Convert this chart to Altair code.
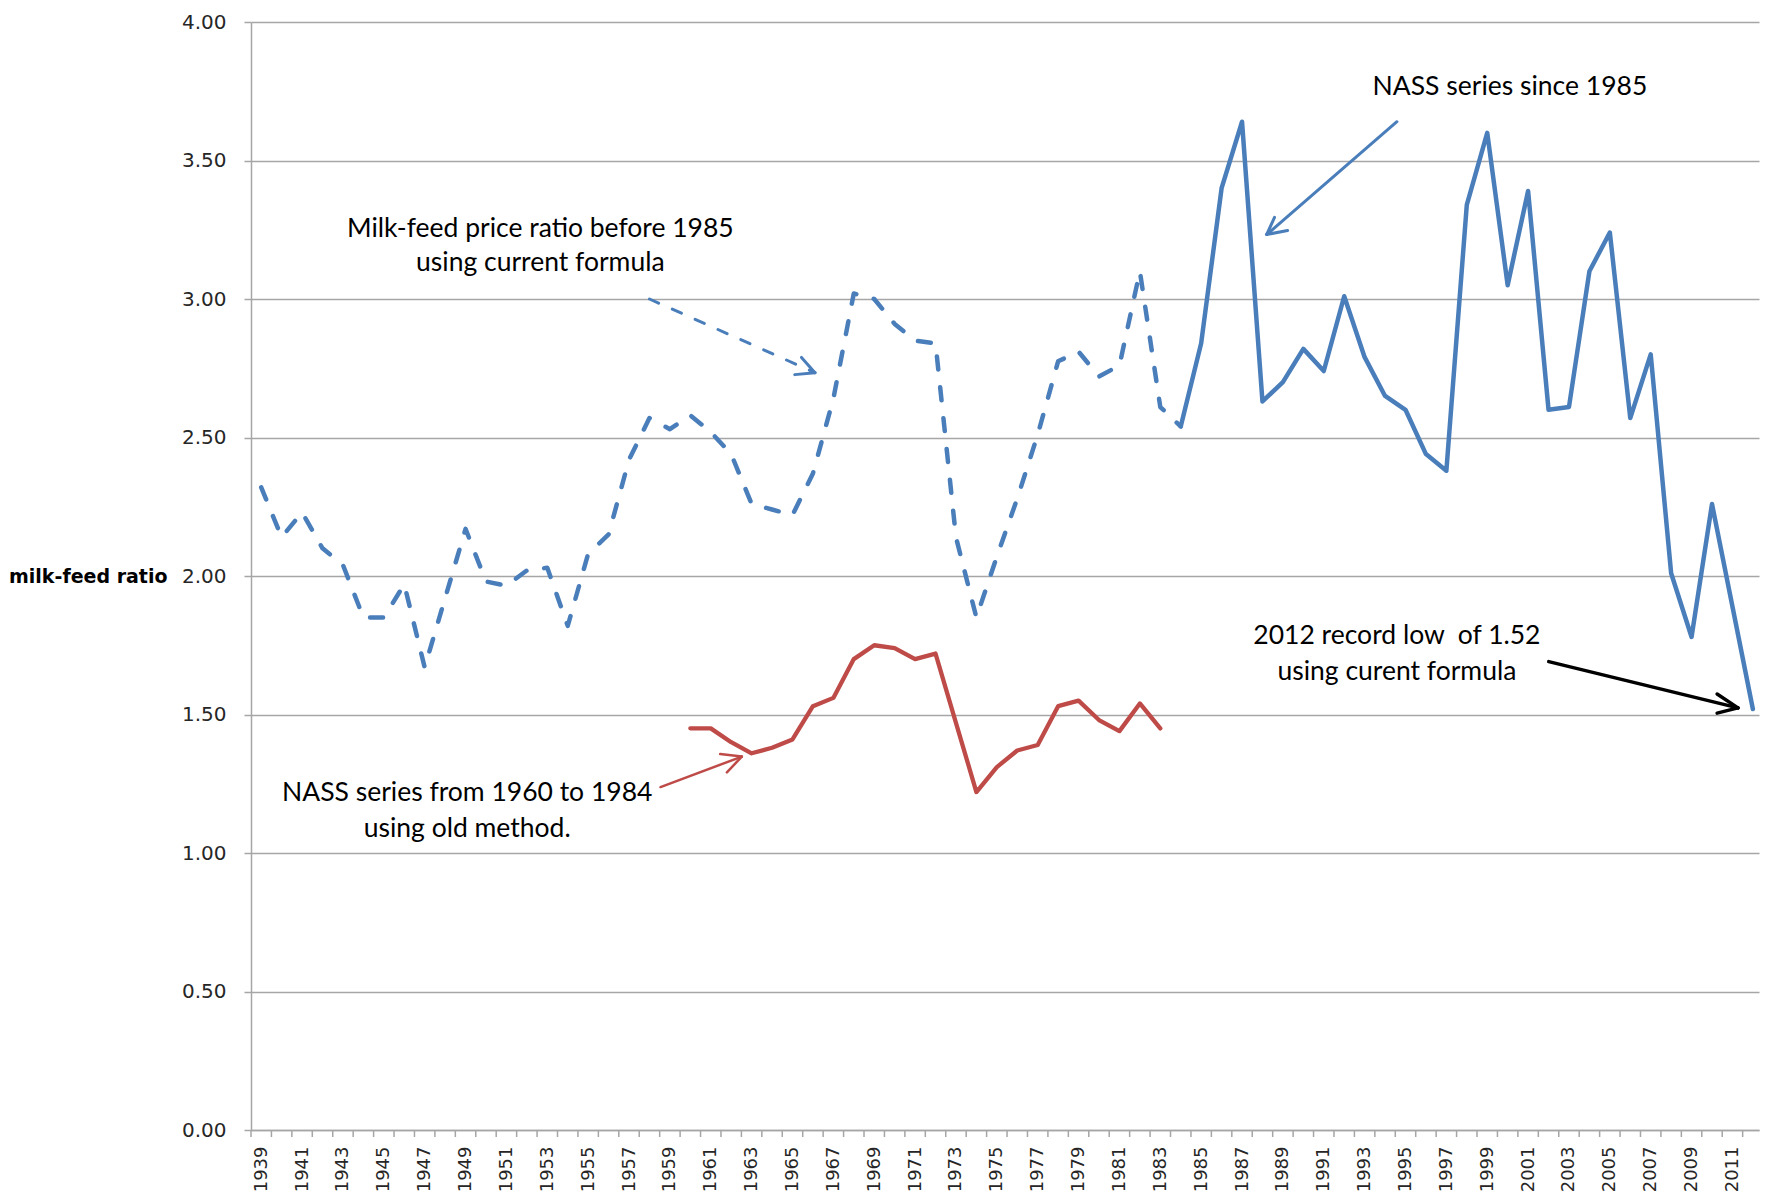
import altair as alt
import pandas as pd

# ---------------- data ----------------
YEARS_CURRENT = list(range(1939, 1985))
CURRENT_FORMULA = [2.32, 2.14, 2.23, 2.10, 2.04, 1.85, 1.85, 1.97, 1.67, 1.92,
                   2.17, 1.98, 1.965, 2.02, 2.03, 1.82, 2.08, 2.15, 2.42, 2.57,
                   2.53, 2.58, 2.52, 2.44, 2.26, 2.24, 2.22, 2.37, 2.64, 3.02,
                   3.00, 2.91, 2.85, 2.84, 2.14, 1.85, 2.07, 2.28, 2.51, 2.775,
                   2.81, 2.72, 2.76, 3.10, 2.61, 2.54]

YEARS_OLD = list(range(1960, 1984))
OLD_METHOD = [1.45, 1.45, 1.40, 1.36, 1.38, 1.41, 1.53, 1.56, 1.70, 1.75,
              1.74, 1.70, 1.72, 1.47, 1.22, 1.31, 1.37, 1.39, 1.53, 1.55,
              1.48, 1.44, 1.54, 1.45]

YEARS_NASS = list(range(1984, 2013))
NASS_SINCE_1985 = [2.54, 2.84, 3.40, 3.64, 2.63, 2.70, 2.82, 2.74, 3.01, 2.79,
                   2.65, 2.60, 2.44, 2.38, 3.34, 3.60, 3.05, 3.39, 2.60, 2.61,
                   3.10, 3.24, 2.57, 2.80, 2.01, 1.78, 2.26, 1.89, 1.52]

Y_TICKS = [0.0, 0.5, 1.0, 1.5, 2.0, 2.5, 3.0, 3.5, 4.0]
X_LABEL_YEARS = list(range(1939, 2012, 2))
X_TICK_BOUNDS = [y - 0.5 for y in range(1939, 2013)]

# annotation texts (centre year, value)
NOTE_TEXT = ["Milk-feed price ratio before 1985", "using current formula",
             "NASS series since 1985",
             "NASS series from 1960 to 1984", "using old method.",
             "2012 record low\u00a0 of 1.52", "using curent formula"]
NOTE_X = [1952.66, 1952.66, 2000.11, 1949.08, 1949.08, 1994.58, 1994.58]
NOTE_Y = [3.254, 3.131, 3.767, 1.217, 1.086, 1.783, 1.652]

# annotation arrows: segments in (year, value) units
SEG_X = [1965.44, 1965.11,                 # dashed arrow heads
         1994.58, 1988.59, 1989.23,        # NASS since 1985 arrow
         1958.54, 1961.46, 1961.79,        # old method arrow
         2002.01, 2010.25, 2010.25]        # record low arrow
SEG_Y = [2.789, 2.727,
         3.640, 3.295, 3.247,
         1.238, 1.357, 1.291,
         1.691, 1.574, 1.505]
SEG_X2 = [1966.10, 1966.10,
          1988.21, 1988.21, 1988.21,
          1962.52, 1962.52, 1962.52,
          2011.27, 2011.27, 2011.27]
SEG_Y2 = [2.734, 2.734,
          3.233, 3.233, 3.233,
          1.348, 1.348, 1.348,
          1.524, 1.524, 1.524]
SEG_COLOR = ["#4a7ebb", "#4a7ebb",
             "#4a7ebb", "#4a7ebb", "#4a7ebb",
             "#be4b48", "#be4b48", "#be4b48",
             "#000000", "#000000", "#000000"]
SEG_W = [3, 3, 3, 3, 3, 2.5, 2.5, 2.5, 3.5, 3.5, 3.5]

DASH_SHAFT_X, DASH_SHAFT_Y = [1958.0], [3.00]
DASH_SHAFT_X2, DASH_SHAFT_Y2 = [1966.10], [2.734]

# ---------------- style ----------------
BLUE = "#4a7ebb"
RED = "#be4b48"
GRID = "#a6a6a6"
W, H = 1508, 1108

XS = alt.Scale(domain=[1938.5, 2012.3], nice=False, zero=False)
YS = alt.Scale(domain=[0, 4], nice=False, zero=True)

df_cur = pd.DataFrame({"year": YEARS_CURRENT, "value": CURRENT_FORMULA})
df_old = pd.DataFrame({"year": YEARS_OLD, "value": OLD_METHOD})
df_nass = pd.DataFrame({"year": YEARS_NASS, "value": NASS_SINCE_1985})
df_ticks = pd.DataFrame({"b": X_TICK_BOUNDS})
df_notes = pd.DataFrame({"text": NOTE_TEXT, "x": NOTE_X, "y": NOTE_Y})
df_seg = pd.DataFrame({"x": SEG_X, "y": SEG_Y, "x2": SEG_X2, "y2": SEG_Y2,
                       "c": SEG_COLOR, "w": SEG_W})
df_shaft = pd.DataFrame({"x": DASH_SHAFT_X, "y": DASH_SHAFT_Y,
                         "x2": DASH_SHAFT_X2, "y2": DASH_SHAFT_Y2})

x_axis = alt.Axis(values=X_LABEL_YEARS, format="d", labelAngle=-90,
                  labelFont="DejaVu Sans", labelFontSize=18, labelColor="#262626",
                  labelPadding=9, tickSize=7, tickOpacity=0, grid=False,
                  domainColor=GRID, domainWidth=1.5, title=None,
                  labelOverlap=False, labelFlush=False)
y_axis = alt.Axis(values=Y_TICKS, format=".2f", labelFont="DejaVu Sans",
                  labelFontSize=20, labelColor="#262626", labelPadding=18,
                  tickSize=7, tickColor=GRID, tickWidth=1.5,
                  domainColor=GRID, domainWidth=1.5,
                  grid=True, gridColor=GRID, gridWidth=1.5,
                  title="milk-feed ratio", titleAngle=0, titleAlign="right",
                  titleBaseline="middle", titleX=-84, titleY=H / 2,
                  titleFont="DejaVu Sans", titleFontSize=19,
                  titleFontWeight="bold", titleColor="#000000")


def X(field):
    return alt.X(field, scale=XS, axis=x_axis)


def Y(field):
    return alt.Y(field, scale=YS, axis=y_axis)


line_cur = alt.Chart(df_cur).mark_line(
    color=BLUE, strokeWidth=4.5, strokeDash=[13, 18], strokeCap="round",
    strokeJoin="round"
).encode(x=X("year:Q"), y=Y("value:Q"))

line_old = alt.Chart(df_old).mark_line(
    color=RED, strokeWidth=4.3, strokeJoin="round", strokeCap="round"
).encode(x=X("year:Q"), y=Y("value:Q"))

line_nass = alt.Chart(df_nass).mark_line(
    color=BLUE, strokeWidth=4.5, strokeJoin="round", strokeCap="round"
).encode(x=X("year:Q"), y=Y("value:Q"))

ticks = alt.Chart(df_ticks).mark_rule(color=GRID, strokeWidth=1.5).encode(
    x=X("b:Q"),
    y=alt.value(H),
    y2=alt.value(H + 7),
)

notes = alt.Chart(df_notes).mark_text(
    font="Lato", fontSize=26.5, color="#000000", align="center", baseline="middle"
).encode(x=X("x:Q"), y=Y("y:Q"), text="text:N")

segs = alt.Chart(df_seg).mark_rule(strokeCap="round").encode(
    x=X("x:Q"),
    y=Y("y:Q"),
    x2="x2:Q",
    y2="y2:Q",
    color=alt.Color("c:N", scale=None),
    strokeWidth=alt.StrokeWidth("w:Q", scale=None),
)

shaft = alt.Chart(df_shaft).mark_rule(
    color=BLUE, strokeWidth=3, strokeDash=[10, 15], strokeCap="round"
).encode(x=X("x:Q"), y=Y("y:Q"), x2="x2:Q", y2="y2:Q")

chart = alt.layer(line_cur, line_old, line_nass, ticks, shaft, segs, notes).properties(
    width=W,
    height=H,
    padding={"left": 243, "top": 14, "right": 1, "bottom": 62},
    autosize=alt.AutoSizeParams(type="none"),
    background="white",
).configure_view(stroke=None)

chart.save("out.html", embed_options={"renderer": "svg", "actions": False})
